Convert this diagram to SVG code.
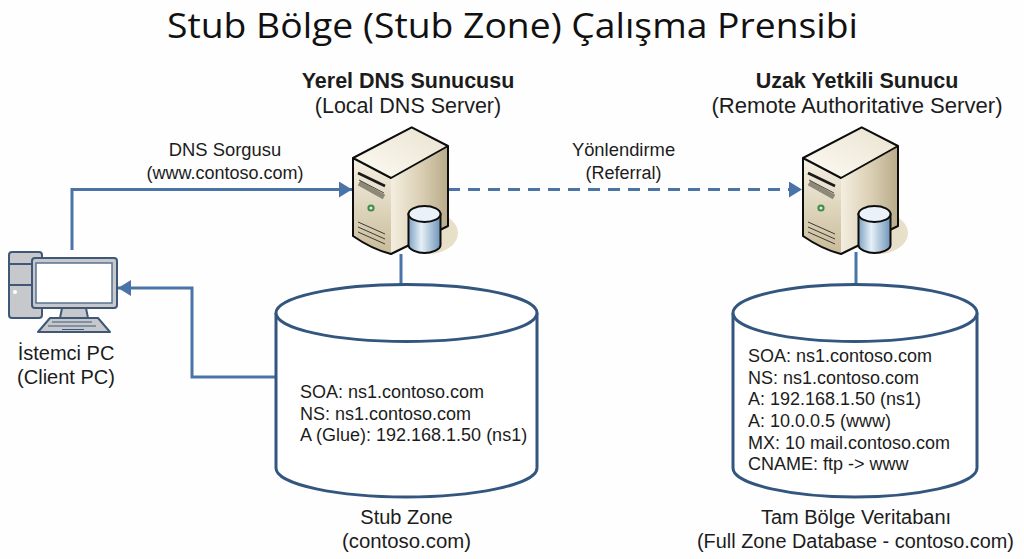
<svg xmlns="http://www.w3.org/2000/svg" xmlns:xlink="http://www.w3.org/1999/xlink" width="1024" height="559" viewBox="0 0 1024 559">
<style>
text{font-family:"Liberation Sans",Arial,sans-serif;fill:#1c1c1c;font-size:18px}
.c{text-anchor:middle}
.b{font-weight:700}
.h{font-size:21.500px}
.m{font-size:18.400px}
.l{font-size:20px}
.title{font-family:"Open Sans","Noto Sans",sans-serif;font-size:35.500px;fill:#111}
.conn{fill:none;stroke:#4a74a8;stroke-width:3}
.cyl{fill:#fff;stroke:#33567f;stroke-width:3}
.pc{stroke:#3f5878;stroke-width:2;stroke-linejoin:round}
.edge{fill:none;stroke:#0d0d0d;stroke-width:2;stroke-linejoin:round}
</style>
<defs>
<marker id="arr" markerUnits="userSpaceOnUse" markerWidth="15" markerHeight="18" refX="13" refY="8" orient="auto"><path d="M0 0L13 8L0 16z" fill="#4a74a8"/></marker>
<linearGradient id="front" x1="0" y1="0" x2="0" y2="1"><stop offset="0" stop-color="#f6f1e4"/><stop offset="1" stop-color="#c9bb98"/></linearGradient>
<linearGradient id="side" x1="0" y1="0" x2="1" y2="0"><stop offset="0" stop-color="#f3eee0"/><stop offset="0.5" stop-color="#dcd1b6"/><stop offset="1" stop-color="#b8ab89"/></linearGradient>
<linearGradient id="top" x1="0" y1="1" x2="1" y2="0"><stop offset="0" stop-color="#fdfbf4"/><stop offset="1" stop-color="#e9e2cf"/></linearGradient>
<linearGradient id="db" x1="0" y1="0" x2="1" y2="0"><stop offset="0" stop-color="#7ea2c2"/><stop offset="0.4" stop-color="#e6f0f7"/><stop offset="1" stop-color="#6f95b8"/></linearGradient>
<g id="server">
<ellipse cx="428" cy="233" rx="30" ry="21" fill="#e8dfc8"/>
<path d="M391 178L448 146V226L391 254z" fill="url(#side)"/>
<path d="M353 158L391 178V254C375 250 363 243 353 236z" fill="url(#front)"/>
<path d="M353 158L411.700 127.300L448 146L391 178z" fill="url(#top)"/>
<path class="edge" d="M353 158L411.700 127.300L448 146V226L391 254C375 250 363 243 353 236zM353 158L391 178L448 146"/>
<path d="M358 173L385 186" stroke="#1a1a1a" stroke-width="2.500"/>
<path d="M359 183L384 197" stroke="#8d8878" stroke-width="5"/>
<path d="M359 180L384 193" stroke="#444" stroke-width="1"/>
<circle cx="371" cy="208" r="2.600" fill="#dfe8d0" stroke="#3f8a4f" stroke-width="2"/>
<path d="M358 222L385 234M358 227L385 239M358 232L385 244" stroke="#3a3a3a" stroke-width="1"/>
<path d="M408.500 214V245C408.500 250 418 253 424.500 253S440.500 250 440.500 245V214z" fill="url(#db)" stroke="#0d0d0d" stroke-width="2"/>
<ellipse cx="424.500" cy="214" rx="16" ry="8" fill="#eaf2f8" stroke="#0d0d0d" stroke-width="2"/>
</g>
</defs>
<rect width="1024" height="559" fill="#fefefe"/>
<text id="title" class="title c" x="512.500" y="38" textLength="691" lengthAdjust="spacingAndGlyphs">Stub Bölge (Stub Zone) Çalışma Prensibi</text>
<g id="connectors">
<path class="conn" d="M72 250V189.500H352" marker-end="url(#arr)"/>
<path class="conn" d="M448 189.500H802" stroke-dasharray="12 8" marker-end="url(#arr)"/>
<path class="conn" d="M276 377H192V288H118" marker-end="url(#arr)"/>
<path class="conn" d="M401 254V285"/>
<path class="conn" d="M856 252V285"/>
</g>
<text class="c m" x="225" y="156">DNS Sorgusu</text>
<text class="c" x="225" y="179">(www.contoso.com)</text>
<text class="c m" x="623.500" y="156">Yönlendirme</text>
<text class="c" x="623.500" y="179">(Referral)</text>
<g id="client-pc">
<rect class="pc" x="9" y="252" width="33" height="66" rx="3" fill="#c6c8cc"/>
<path class="pc" d="M9 264H42M9 285H42" fill="none"/>
<circle cx="15" cy="292" r="2" fill="#fff"/>
<path class="pc" d="M62 308H86L88 318H60z" fill="#c6c8cc"/>
<rect class="pc" x="32" y="258" width="85" height="50" rx="3" fill="#c6c8cc"/>
<rect x="36" y="263" width="76" height="40" fill="#fff" stroke="#5a7391" stroke-width="1.500"/>
<path class="pc" d="M50 318H98L110 332H38z" fill="#c6c8cc"/>
<path d="M52 322H92M48 326H96M62 329.500H84" stroke="#3f5878" stroke-width="1.200" fill="none"/>
<text class="c l" x="66" y="360">İstemci PC</text>
<text class="c l" x="66" y="384">(Client PC)</text>
</g>
<g id="local-dns-server">
<text class="c b h" x="408" y="88">Yerel DNS Sunucusu</text>
<text class="c h" x="408" y="113">(Local DNS Server)</text>
<use href="#server" xlink:href="#server"/>
</g>
<g id="remote-server">
<text class="c b h" x="857" y="88">Uzak Yetkili Sunucu</text>
<text class="c h" x="857" y="113" textLength="291" lengthAdjust="spacingAndGlyphs">(Remote Authoritative Server)</text>
<use href="#server" xlink:href="#server" x="450"/>
</g>
<g id="stub-zone">
<path class="cyl" d="M276 313V468C276 485 340 497 406 497S537 485 537 468V313"/>
<ellipse class="cyl" cx="406.500" cy="313" rx="130.500" ry="28.500"/>
<text x="300" y="398">SOA: ns1.contoso.com</text>
<text x="300" y="420">NS: ns1.contoso.com</text>
<text x="300" y="441">A (Glue): 192.168.1.50 (ns1)</text>
<text class="c l" x="406.500" y="524">Stub Zone</text>
<text class="c l" x="406.500" y="548" textLength="129" lengthAdjust="spacingAndGlyphs">(contoso.com)</text>
</g>
<g id="full-zone">
<path class="cyl" d="M733 313V468C733 485 795 497 855 497S977 485 977 468V313"/>
<ellipse class="cyl" cx="855" cy="313" rx="122" ry="28.500"/>
<text x="748" y="362">SOA: ns1.contoso.com</text>
<text x="748" y="384">NS: ns1.contoso.com</text>
<text x="748" y="405">A: 192.168.1.50 (ns1)</text>
<text x="748" y="427">A: 10.0.0.5 (www)</text>
<text x="748" y="449">MX: 10 mail.contoso.com</text>
<text x="748" y="470">CNAME: ftp -&gt; www</text>
<text class="c l" x="856" y="524">Tam Bölge Veritabanı</text>
<text class="c l" x="855.500" y="548" textLength="317" lengthAdjust="spacingAndGlyphs">(Full Zone Database - contoso.com)</text>
</g>
</svg>
